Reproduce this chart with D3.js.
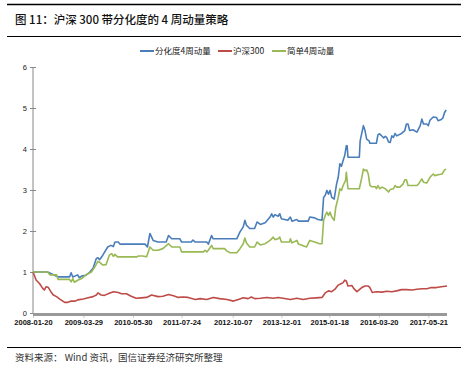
<!DOCTYPE html>
<html><head><meta charset="utf-8">
<script src="https://cdn.jsdelivr.net/npm/d3@7"></script>
<style>
html,body{margin:0;padding:0;background:#fff;}
svg{display:block;font-family:"Noto Sans CJK SC","Liberation Sans",sans-serif;}
</style></head>
<body>
<svg id="chart" width="467" height="368"></svg>
<script>
// weeks since 2008-01-20, value
const startDate = "2008-01-20";
const seriesNames = ["分化度4周动量", "沪深300", "简单4周动量"];
const seriesColors = ["#4a7ebb", "#be4b48", "#98b954"];
const blueSeries = [[0,1.00],[18,1.00],[31,0.88],[45,0.88],[47,0.98],[49,0.88],[55,0.93],[57,0.86],[60,0.90],[65,0.92],[70,1.00],[74,1.09],[78,1.33],[80,1.35],[82,1.30],[86,1.41],[92,1.61],[96,1.65],[99,1.62],[101,1.73],[105,1.73],[107,1.68],[138,1.68],[141,1.61],[144,1.94],[148,1.77],[154,1.73],[164,1.73],[167,1.89],[171,1.81],[181,1.81],[183,1.73],[195,1.73],[197,1.78],[200,1.73],[214,1.73],[216,1.68],[220,1.89],[222,1.81],[251,1.81],[255,1.98],[259,2.10],[261,2.26],[263,2.14],[267,2.06],[273,2.06],[276,2.22],[280,2.16],[286,2.20],[292,2.34],[294,2.42],[296,2.34],[298,2.40],[302,2.36],[304,2.42],[306,2.30],[314,2.26],[317,2.34],[319,2.24],[325,2.28],[327,2.24],[339,2.24],[341,2.34],[347,2.32],[351,2.28],[356,2.26],[358,2.82],[360,2.87],[362,2.99],[364,2.90],[366,2.99],[368,2.82],[371,2.78],[374,3.15],[376,3.31],[378,3.64],[380,3.58],[382,3.72],[384,3.84],[386,4.08],[387,4.08],[388,3.80],[402,3.80],[403,4.20],[407,4.57],[409,4.45],[411,4.24],[414,4.20],[415,4.14],[423,4.14],[425,4.35],[427,4.37],[430,4.31],[432,4.27],[434,4.31],[436,4.27],[438,4.17],[440,4.16],[442,4.32],[444,4.28],[446,4.38],[448,4.32],[454,4.38],[458,4.45],[460,4.61],[462,4.61],[464,4.45],[468,4.47],[473,4.41],[477,4.57],[479,4.73],[481,4.61],[485,4.61],[487,4.57],[489,4.70],[493,4.78],[497,4.77],[499,4.69],[503,4.72],[505,4.76],[507,4.89],[509,4.95]];
const redSeries = [[0,1.00],[4,0.80],[8,0.72],[12,0.60],[14,0.56],[16,0.64],[19,0.62],[22,0.52],[25,0.44],[29,0.40],[33,0.34],[39,0.26],[43,0.26],[47,0.29],[52,0.29],[55,0.32],[62,0.34],[68,0.37],[74,0.40],[78,0.44],[80,0.49],[84,0.44],[88,0.43],[94,0.48],[99,0.52],[105,0.50],[109,0.47],[115,0.47],[121,0.41],[127,0.36],[133,0.37],[140,0.38],[146,0.44],[154,0.40],[160,0.41],[167,0.45],[173,0.42],[179,0.38],[185,0.39],[191,0.38],[200,0.33],[206,0.35],[214,0.33],[222,0.38],[230,0.35],[239,0.33],[247,0.29],[253,0.33],[259,0.37],[265,0.35],[269,0.39],[273,0.35],[280,0.36],[288,0.38],[296,0.36],[302,0.38],[308,0.36],[317,0.33],[325,0.36],[333,0.33],[341,0.36],[349,0.37],[356,0.38],[360,0.49],[364,0.54],[368,0.52],[372,0.58],[376,0.68],[380,0.72],[382,0.74],[384,0.80],[386,0.78],[388,0.66],[393,0.67],[395,0.60],[399,0.52],[401,0.55],[405,0.62],[409,0.66],[413,0.66],[415,0.62],[418,0.50],[423,0.52],[430,0.51],[436,0.53],[442,0.52],[448,0.54],[454,0.57],[460,0.57],[467,0.56],[473,0.58],[479,0.59],[485,0.59],[491,0.62],[497,0.62],[503,0.64],[510,0.66]];
const greenSeries = [[0,1.00],[18,1.00],[21,0.93],[29,0.93],[31,0.82],[45,0.82],[47,0.76],[49,0.84],[51,0.75],[55,0.80],[60,0.84],[66,0.94],[72,1.00],[76,1.12],[80,1.26],[82,1.24],[86,1.17],[90,1.18],[94,1.41],[97,1.45],[99,1.38],[101,1.43],[104,1.37],[128,1.37],[130,1.39],[135,1.39],[140,1.37],[144,1.61],[148,1.53],[154,1.53],[160,1.57],[167,1.69],[171,1.61],[181,1.61],[183,1.49],[210,1.49],[212,1.53],[214,1.49],[216,1.53],[220,1.65],[222,1.57],[236,1.57],[239,1.51],[243,1.47],[251,1.47],[255,1.57],[259,1.69],[261,1.83],[263,1.71],[267,1.61],[273,1.61],[276,1.73],[280,1.66],[286,1.69],[292,1.77],[296,1.85],[298,1.79],[302,1.81],[304,1.85],[306,1.73],[316,1.73],[317,1.81],[319,1.71],[325,1.77],[327,1.68],[337,1.61],[339,1.69],[341,1.77],[347,1.73],[353,1.69],[356,1.69],[358,2.26],[360,2.38],[362,2.46],[364,2.38],[366,2.46],[368,2.34],[371,2.26],[373,2.58],[376,2.82],[378,3.03],[380,2.99],[382,3.11],[385,3.23],[386,3.43],[388,3.03],[402,3.03],[405,3.30],[407,3.51],[409,3.47],[411,3.49],[413,3.39],[415,3.12],[417,3.08],[422,3.08],[423,3.03],[425,3.11],[427,3.03],[430,3.07],[434,3.03],[436,2.99],[438,2.95],[440,3.01],[444,3.03],[446,3.11],[448,3.07],[452,3.07],[456,3.15],[458,3.25],[460,3.25],[462,3.11],[473,3.11],[475,3.15],[479,3.27],[481,3.19],[485,3.17],[489,3.31],[493,3.39],[495,3.35],[499,3.37],[504,3.39],[507,3.49],[509,3.51]];
const xTickLabels = ["2008-01-20","2009-03-29","2010-05-30","2011-07-24","2012-10-07","2013-12-01","2015-01-18","2016-03-20","2017-05-21"];
const yTicks = [0,1,2,3,4,5,6];
const endWeeks = 510;
const titleText = "图 11：沪深 300 带分化度的 4 周动量策略";
const sourceText = "资料来源： Wind 资讯，国信证券经济研究所整理";

const svg = d3.select("#chart");
const parse = d3.timeParse("%Y-%m-%d");
const t0 = parse(startDate);
const toDate = w => d3.timeWeek.offset(t0, w);

const x = d3.scaleTime().domain([t0, toDate(endWeeks)]).range([33, 447]);
const y = d3.scaleLinear().domain([0, 6]).range([313, 67]);

// frame lines
svg.append("line").attr("x1",7).attr("x2",461).attr("y1",4.5).attr("y2",4.5).attr("stroke","#000").attr("stroke-width",1.5);
svg.append("line").attr("x1",7).attr("x2",461).attr("y1",36.5).attr("y2",36.5).attr("stroke","#000").attr("stroke-width",1.2);
svg.append("line").attr("x1",7).attr("x2",461).attr("y1",347.5).attr("y2",347.5).attr("stroke","#000").attr("stroke-width",1.2);
svg.append("text").attr("x",15).attr("y",24).attr("font-size",11.5).attr("font-weight",500).attr("fill","#111").text(titleText);
svg.append("text").attr("x",15).attr("y",361).attr("font-size",9.5).attr("fill","#333").text(sourceText);

// y axis
const yAxis = d3.axisLeft(y).tickValues(yTicks).tickSize(3).tickFormat(d3.format("d"));
const gy = svg.append("g").attr("transform","translate(33,0)").call(yAxis);
gy.select(".domain").attr("stroke","#888").attr("stroke-width",1).attr("d","M0,67V313");
gy.selectAll(".tick line").attr("stroke","#888").attr("x1",3);
gy.selectAll(".tick text").attr("font-size",7.5).attr("fill","#222").attr("x",-6).attr("font-family","Liberation Sans,sans-serif");

// x axis
const xAxis = d3.axisBottom(x).tickValues(xTickLabels.map(parse)).tickSize(3).tickFormat(d3.timeFormat("%Y-%m-%d"));
const gx = svg.append("g").attr("transform","translate(0,313)").call(xAxis);
gx.select(".domain").remove();
gx.append("rect").attr("x",33).attr("y",0).attr("width",414).attr("height",3).attr("fill","#999");
gx.selectAll(".tick line").attr("stroke","#ccc").attr("y1",0).attr("y2",5);
gx.selectAll(".tick text").attr("font-size",7.5).attr("font-weight","bold").attr("fill","#111").attr("y",7).attr("font-family","Liberation Sans,sans-serif");

// lines
const line = d3.line().x(d => x(toDate(d[0]))).y(d => y(d[1]));
const all = [blueSeries, redSeries, greenSeries];
all.forEach((s,i) => {
  svg.append("path").datum(s).attr("d", line).attr("fill","none")
    .attr("stroke", seriesColors[i]).attr("stroke-width",1.6).attr("stroke-linejoin","round");
});

// legend
const legendX = [140, 218, 272];
seriesNames.forEach((n,i) => {
  const g = svg.append("g").attr("transform",`translate(${legendX[i]},51)`);
  g.append("line").attr("x1",0).attr("x2",14).attr("y1",0).attr("y2",0).attr("stroke",seriesColors[i]).attr("stroke-width",2);
  g.append("text").attr("x",15).attr("y",3).attr("font-size",8.5).attr("fill","#222").text(n);
});
</script>
</body></html>
